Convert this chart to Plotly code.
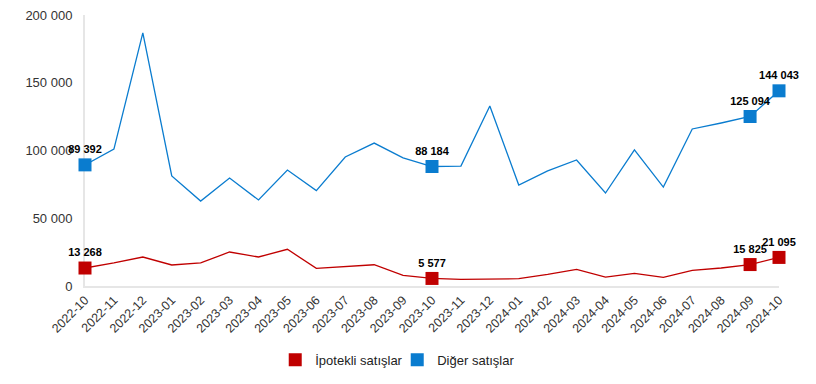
import plotly.graph_objects as go

months = ["2022-10","2022-11","2022-12","2023-01","2023-02","2023-03","2023-04","2023-05",
          "2023-06","2023-07","2023-08","2023-09","2023-10","2023-11","2023-12","2024-01",
          "2024-02","2024-03","2024-04","2024-05","2024-06","2024-07","2024-08","2024-09","2024-10"]
ipotekli = [13268, 17000, 21400, 15500, 17000, 25100, 21400, 27100, 13000, 14300, 15700, 7900,
            5577, 4900, 5400, 5400, 8600, 12300, 6600, 9300, 6400, 11600, 13300, 15825, 21095]
diger = [89392, 101000, 186800, 81200, 62700, 79700, 63500, 85600, 70400, 95200, 105500, 94500,
         88184, 88500, 132800, 74500, 84900, 93000, 68600, 100400, 73000, 115900, 120300, 125094, 144043]
highlight = [0, 12, 23, 24]

RED = "#C00000"
BLUE = "#0A7CCF"

def fmt(v):
    return f"{v:,}".replace(",", " ")

fig = go.Figure()
for name, vals, col in [("İpotekli satışlar", ipotekli, RED), ("Diğer satışlar", diger, BLUE)]:
    fig.add_trace(go.Scatter(x=months, y=vals, mode="lines", line=dict(color=col, width=1.3),
                             showlegend=False, hoverinfo="skip", cliponaxis=False))
    fig.add_trace(go.Scatter(x=[months[i] for i in highlight], y=[vals[i] for i in highlight],
                             mode="markers+text", text=[fmt(vals[i]) for i in highlight],
                             textposition="top center",
                             textfont=dict(family="Liberation Sans", size=11, color="#000000", weight="bold"),
                             marker=dict(symbol="square", size=13, color=col),
                             showlegend=False, cliponaxis=False))

for name, col in [("İpotekli satışlar", RED), ("Diğer satışlar", BLUE)]:
    fig.add_trace(go.Scatter(x=[None], y=[None], mode="markers", name=name,
                             marker=dict(symbol="square", size=13, color=col)))

fig.update_layout(
    width=816, height=384,
    margin=dict(l=77, r=45, t=7, b=106, autoexpand=False),
    paper_bgcolor="white", plot_bgcolor="white",
    separators=", ",
    font=dict(family="Liberation Sans", size=12, color="#333333"),
    showlegend=True,
    legend=dict(orientation="h", x=0.477, xanchor="center", xref="container",
                y=0.084, yanchor="middle", yref="container",
                font=dict(size=13, color="#222222"), itemwidth=30, tracegroupgap=0,
                entrywidth=77, entrywidthmode="pixels"),
    xaxis=dict(type="category", tickangle=-45, showgrid=False, showline=True,
               linecolor="#E6E6E6", linewidth=2, ticks="", tickfont=dict(size=12.5, color="#333333"),
               range=[0, 24], automargin=False, layer="below traces", ticklabeloverflow="allow"),
    yaxis=dict(range=[0, 200000], tickvals=[0, 50000, 100000, 150000, 200000],
               tickformat=",d", showgrid=False, zeroline=False, showline=True,
               linecolor="#E6E6E6", linewidth=2, ticks="", ticklabelstandoff=8,
               tickfont=dict(size=13, color="#333333"), automargin=False, layer="below traces",
               ticklabeloverflow="allow"),
)

fig.write_html("out.html")
